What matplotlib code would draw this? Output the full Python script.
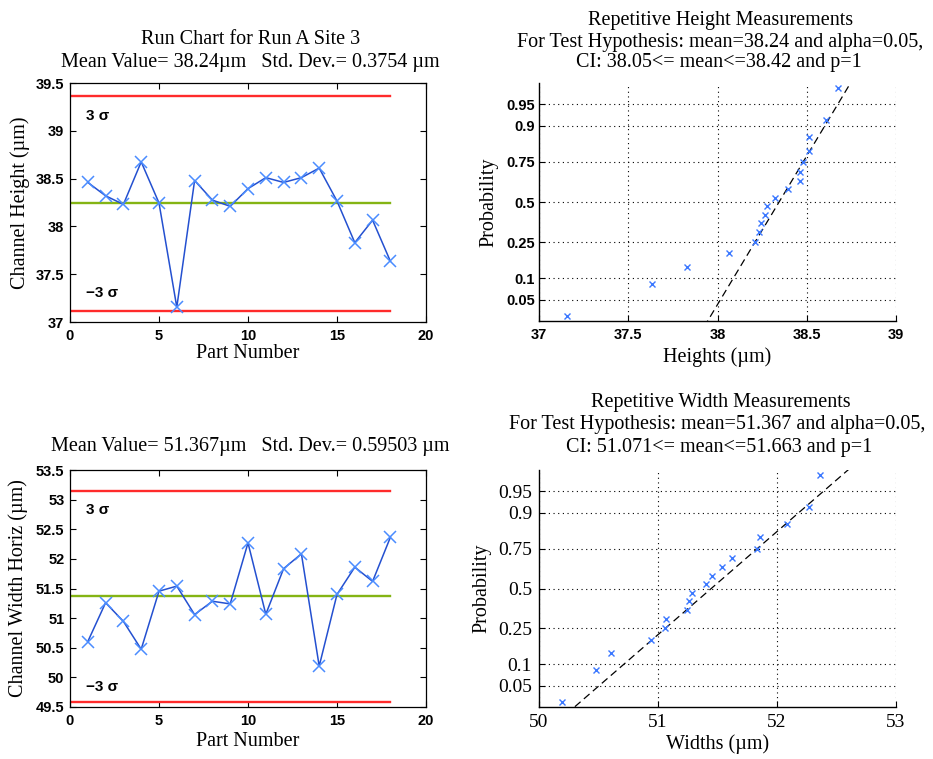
import numpy as np
import matplotlib
matplotlib.use("Agg")
import matplotlib.pyplot as plt
from statistics import NormalDist

# ---- measurements -------------------------------------------------------
part_numbers = list(range(1, 19))
heights = [38.46, 38.32, 38.23, 38.675, 38.245, 37.155, 38.48, 38.275, 38.21,
           38.395, 38.51, 38.46, 38.51, 38.61, 38.265, 37.83, 38.065, 37.635]
widths = [50.605, 51.26, 50.945, 50.475, 51.455, 51.54, 51.06, 51.285, 51.24,
          52.27, 51.065, 51.835, 52.085, 50.19, 51.40, 51.86, 51.62, 52.365]

height_mean, height_std = 38.24, 0.3754
width_mean, width_std = 51.367, 0.59503

height_yticks = [37, 37.5, 38, 38.5, 39, 39.5]
width_yticks = [49.5, 50, 50.5, 51, 51.5, 52, 52.5, 53, 53.5]
run_xticks = [0, 5, 10, 15, 20]
height_xticks = [37, 37.5, 38, 38.5, 39]
width_xticks = [50, 51, 52, 53]
prob_ticks = [0.05, 0.1, 0.25, 0.5, 0.75, 0.9, 0.95]
prob_labels = ["0.05", "0.1", "0.25", "0.5", "0.75", "0.9", "0.95"]

SERIF = "Liberation Serif"
SANS = "Liberation Sans"
W, H = 933, 759
TITLE_SIZE = 14.5
LABEL_SIZE = 14.5

fig = plt.figure(figsize=(W / 100, H / 100), dpi=100)
fig.patch.set_facecolor("white")


def px_axes(left, top, right, bottom):
    return fig.add_axes([left / W, 1 - bottom / H, (right - left) / W, (bottom - top) / H])


def fig_text(x, y, s, size=TITLE_SIZE):
    fig.text(x / W, 1 - y / H, s, ha="center", va="center",
             fontfamily=SERIF, fontsize=size)


def style_ticks(ax, family, size, weight):
    for lab in ax.get_xticklabels() + ax.get_yticklabels():
        lab.set_fontfamily(family)
        lab.set_fontsize(size)
        lab.set_fontweight(weight)


def place_labels(ax, xlabel, ylabel, x_off, y_off, ax_w, ax_h):
    ax.set_xlabel(xlabel, fontfamily=SERIF, fontsize=LABEL_SIZE)
    ax.set_ylabel(ylabel, fontfamily=SERIF, fontsize=LABEL_SIZE)
    ax.xaxis.set_label_coords(0.5, -y_off / ax_h)
    ax.yaxis.set_label_coords(-x_off / ax_w, 0.5)
    ax.xaxis.label.set_verticalalignment("center")
    ax.yaxis.label.set_verticalalignment("center")


def run_chart(ax, values, mean, std, yticks, ylabel, sig_hi_y, sig_lo_y,
              ax_h, x_off, y_off):
    ucl, lcl = mean + 3 * std, mean - 3 * std
    ax.plot([0, 18], [ucl, ucl], color="#ff2b2b", lw=1.7)
    ax.plot([0, 18], [lcl, lcl], color="#ff2b2b", lw=1.7)
    ax.plot([0, 18], [mean, mean], color="#84b414", lw=1.7)
    ax.plot(part_numbers, values, "-", color="#2450d0", lw=1.1)
    ax.plot(part_numbers, values, "x", color="#4a8cff", ms=8, mew=1.1)
    ax.set_xlim(0, 20)
    ax.set_ylim(yticks[0], yticks[-1])
    ax.set_xticks(run_xticks)
    ax.set_xticklabels([str(t) for t in run_xticks])
    ax.set_yticks(yticks)
    ax.set_yticklabels([f"{t:g}" for t in yticks])
    ax.tick_params(direction="in", top=True, right=True, length=4, width=0.8,
                   pad=4)
    ax.tick_params(axis="x", pad=5)
    style_ticks(ax, SANS, 10.5, "bold")
    for s in ax.spines.values():
        s.set_linewidth(0.9)
    ax.text(0.9, sig_hi_y, "3 σ", fontfamily=SANS, fontweight="bold",
            fontsize=11, ha="left", va="center")
    ax.text(0.9, sig_lo_y, "−3 σ", fontfamily=SANS, fontweight="bold",
            fontsize=11, ha="left", va="center")
    place_labels(ax, "Part Number", ylabel, x_off, y_off, 356, ax_h)


def prob_plot(ax, values, xticks, xlabel, tick_family, tick_size, tick_weight,
              ax_h, x_off, y_off, ypad):
    nd = NormalDist()
    data = np.sort(np.asarray(values))
    n = len(data)
    z = np.array([nd.inv_cdf((i - 0.5) / n) for i in range(1, n + 1)])
    q1, q3 = np.percentile(data, [25, 75], method="hazen")
    z1, z3 = nd.inv_cdf(0.25), nd.inv_cdf(0.75)
    slope = (z3 - z1) / (q3 - q1)
    xs = np.array([xticks[0], xticks[-1]])
    ax.plot(xs, z1 + slope * (xs - q1), color="k", lw=0.9,
            dashes=(6, 3.5))
    ax.plot(data, z, "x", color="#3b78ff", ms=4.8, mew=1.0, zorder=3)
    ax.set_xlim(xticks[0], xticks[-1])
    ax.set_ylim(-2.0, 2.0)
    ax.set_xticks(xticks)
    ax.set_xticklabels([f"{t:g}" for t in xticks])
    ax.set_yticks([nd.inv_cdf(p) for p in prob_ticks])
    ax.set_yticklabels(prob_labels)
    ax.grid(True, color="k", lw=0.8, linestyle=(0, (1, 3.2)))
    ax.set_axisbelow(True)
    for side in ("top", "right"):
        ax.spines[side].set_visible(False)
    for s in ("left", "bottom"):
        ax.spines[s].set_linewidth(1.0)
    ax.tick_params(direction="in", length=4, width=0.8, pad=ypad)
    ax.tick_params(axis="x", pad=5)
    style_ticks(ax, tick_family, tick_size, tick_weight)
    place_labels(ax, xlabel, "Probability", x_off, y_off, 357, ax_h)


ax_tl = px_axes(70, 83, 426, 322)
ax_bl = px_axes(70, 470, 426, 707)
ax_tr = px_axes(539, 83, 896, 321)
ax_br = px_axes(539, 470, 896, 707)

run_chart(ax_tl, heights, height_mean, height_std, height_yticks,
          "Channel Height (µm)", 39.16, 37.30, 239, 50, 31)
run_chart(ax_bl, widths, width_mean, width_std, width_yticks,
          "Channel Width Horiz (µm)", 52.83, 49.84, 237, 52, 35)

prob_plot(ax_tr, heights, height_xticks, "Heights (µm)", SANS, 10.5, "bold",
          238, 50, 36, 3)
prob_plot(ax_br, widths, width_xticks, "Widths (µm)", SERIF, 14, "normal",
          237, 57, 37, 5)

# ---- titles -------------------------------------------------------------
fig_text(251, 39, "Run Chart for Run A Site 3")
fig_text(250, 63, f"Mean Value= {height_mean:g}µm   Std. Dev.= {height_std:g} µm")
fig_text(721, 20, "Repetitive Height Measurements")
fig_text(720, 42, "For Test Hypothesis: mean=38.24 and alpha=0.05,")
fig_text(719, 63, "CI: 38.05<= mean<=38.42 and p=1")

fig_text(250, 446, f"Mean Value= {width_mean:g}µm   Std. Dev.= {width_std:g} µm")
fig_text(721, 403, "Repetitive Width Measurements")
fig_text(717, 425, "For Test Hypothesis: mean=51.367 and alpha=0.05,")
fig_text(719, 447, "CI: 51.071<= mean<=51.663 and p=1")

fig.savefig("out.png", dpi=100, facecolor="white")
